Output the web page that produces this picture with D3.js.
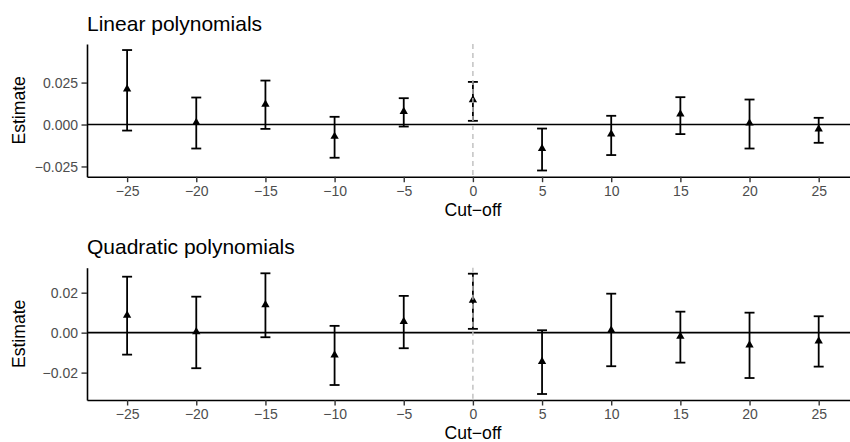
<!DOCTYPE html>
<html>
<head>
<meta charset="utf-8">
<script src="https://cdn.jsdelivr.net/npm/d3@7.9.0/dist/d3.min.js"></script>
<style>
  body { margin: 0; background: #fff; }
  svg { display: block; font-family: "Liberation Sans", Arial, Helvetica, sans-serif; }
</style>
</head>
<body>
<svg id="chart" width="850" height="442"></svg>
<script>
// cut-off values on the x axis
const cutoffs = [-25, -20, -15, -10, -5, 0, 5, 10, 15, 20, 25];
const xTicks = [-25, -20, -15, -10, -5, 0, 5, 10, 15, 20, 25];

// linear polynomials: estimate and interval
const linEst = [0.0211, 0.0012, 0.0121, -0.0071, 0.0077, 0.0147, -0.0143, -0.0057, 0.0062, 0.0008, -0.0027];
const linLo  = [-0.0036, -0.0143, -0.0026, -0.0198, -0.0012, 0.0022, -0.0274, -0.0182, -0.0057, -0.0143, -0.0109];
const linHi  = [0.0444, 0.0161, 0.0262, 0.0046, 0.0157, 0.0254, -0.0024, 0.0052, 0.0163, 0.0149, 0.0040];
const linTicks = [-0.025, 0, 0.025];

// quadratic polynomials: estimate and interval
const quadEst = [0.0087, 0.0004, 0.0139, -0.0112, 0.0055, 0.0162, -0.0145, 0.0012, -0.0018, -0.0062, -0.0042];
const quadLo  = [-0.011, -0.0178, -0.0023, -0.0262, -0.0078, 0.0019, -0.0307, -0.0168, -0.015, -0.0227, -0.017];
const quadHi  = [0.028, 0.018, 0.0297, 0.0034, 0.0184, 0.0295, 0.0012, 0.0195, 0.0105, 0.010, 0.0082];
const quadTicks = [-0.02, 0, 0.02];

const svg = d3.select('#chart');
const capHalf = 0.36; // errorbar cap half-width, in x units

const x = d3.scaleLinear().domain([-27.9, 27.9]).range([87, 858.8]);

const minus = (s) => s.replace('-', '\u2212');

function drawPanel(opts) {
  const { title, est, lo, hi, yDomain, top, bottom, yTicks, yFmt } = opts;
  const y = d3.scaleLinear().domain(yDomain).range([bottom, top]);
  const g = svg.append('g');

  // title
  g.append('text')
    .attr('x', x.range()[0])
    .attr('y', top - 13.5)
    .attr('font-size', 21)
    .attr('fill', '#000')
    .text(title);

  // zero line
  g.append('line')
    .attr('x1', x.range()[0]).attr('x2', x.range()[1])
    .attr('y1', y(0)).attr('y2', y(0))
    .attr('stroke', '#000').attr('stroke-width', 1.6);

  const data = cutoffs.map((c, i) => ({ c, est: est[i], lo: lo[i], hi: hi[i] }));

  // error bars
  const bars = g.append('g').attr('stroke', '#000').attr('stroke-width', 1.8).attr('fill', 'none');
  data.forEach((d) => {
    bars.append('line')
      .attr('x1', x(d.c)).attr('x2', x(d.c))
      .attr('y1', y(d.lo)).attr('y2', y(d.hi));
    bars.append('line')
      .attr('x1', x(d.c - capHalf)).attr('x2', x(d.c + capHalf))
      .attr('y1', y(d.lo)).attr('y2', y(d.lo));
    bars.append('line')
      .attr('x1', x(d.c - capHalf)).attr('x2', x(d.c + capHalf))
      .attr('y1', y(d.hi)).attr('y2', y(d.hi));
  });

  // triangle points
  const tri = d3.symbol().type(d3.symbolTriangle).size(30);
  g.selectAll('path.pt')
    .data(data)
    .join('path')
    .attr('class', 'pt')
    .attr('d', tri)
    .attr('transform', (d) => `translate(${x(d.c)},${y(d.est)})`)
    .attr('fill', '#000');

  // dashed cut-off line drawn over the bars
  g.append('line')
    .attr('x1', x(0)).attr('x2', x(0))
    .attr('y1', top).attr('y2', bottom)
    .attr('stroke', '#bebebe').attr('stroke-width', 1.4)
    .attr('stroke-dasharray', '5,4');

  // axes
  const xAxis = d3.axisBottom(x).tickValues(xTicks).tickSizeOuter(0).tickSizeInner(5.5).tickPadding(4)
    .tickFormat((d) => minus(String(d)));
  const gx = g.append('g').attr('transform', `translate(0,${bottom})`).call(xAxis);

  const yAxis = d3.axisLeft(y).tickValues(yTicks).tickSizeOuter(0).tickSizeInner(5.5).tickPadding(3.5)
    .tickFormat((d) => minus(yFmt(d)));
  const gy = g.append('g').attr('transform', `translate(${x.range()[0]},0)`).call(yAxis);

  [gx, gy].forEach((a) => {
    a.select('.domain').attr('stroke', '#000').attr('stroke-width', 1.6);
    a.selectAll('.tick line').attr('stroke', '#333').attr('stroke-width', 1.4);
    a.selectAll('.tick text')
      .attr('fill', '#4d4d4d')
      .attr('font-size', 14)
      .attr('font-family', '"Liberation Sans", Arial, sans-serif');
  });
  gx.selectAll('.tick text').attr('dy', null).attr('y', 19.3).attr('dominant-baseline', 'auto');
  gy.selectAll('.tick text').attr('dy', '0.35em');

  // axis titles
  g.append('text')
    .attr('x', (x.range()[0] + x.range()[1]) / 2)
    .attr('y', bottom + 39.3)
    .attr('text-anchor', 'middle')
    .attr('font-size', 17.6)
    .text('Cut\u2212off');

  g.append('text')
    .attr('transform', `translate(25,${(top + bottom) / 2}) rotate(-90)`)
    .attr('text-anchor', 'middle')
    .attr('font-size', 17.6)
    .text('Estimate');
}

drawPanel({
  title: 'Linear polynomials',
  est: linEst, lo: linLo, hi: linHi,
  yDomain: [-0.0311, 0.048], top: 44, bottom: 176.7,
  yTicks: linTicks, yFmt: d3.format('.3f')
});

drawPanel({
  title: 'Quadratic polynomials',
  est: quadEst, lo: quadLo, hi: quadHi,
  yDomain: [-0.0337, 0.0325], top: 267.7, bottom: 400,
  yTicks: quadTicks, yFmt: d3.format('.2f')
});
</script>
</body>
</html>
